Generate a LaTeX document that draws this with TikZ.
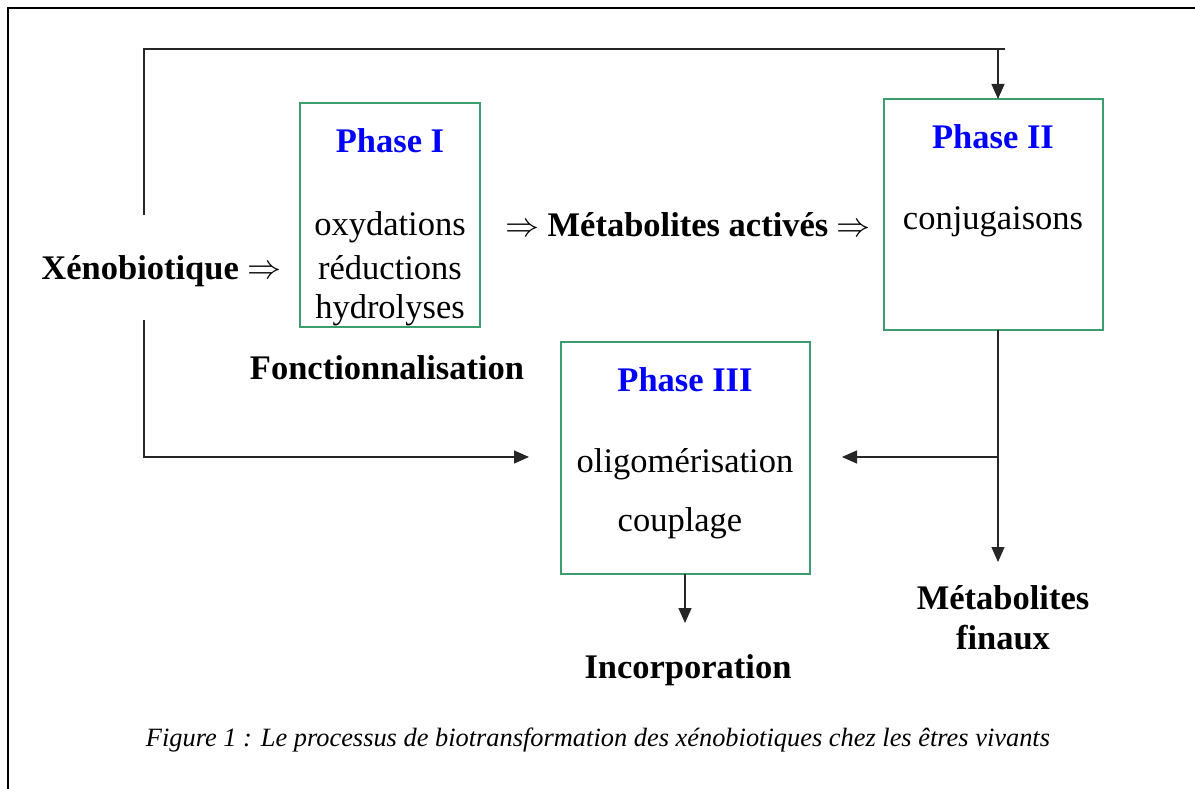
\documentclass[tikz,border=0pt]{standalone}
\usepackage{fontspec}
\setmainfont{Liberation Serif}
\newcommand{\dblarrow}{\raisebox{0.02em}{\resizebox{34pt}{!}{$\Rightarrow$}}}
\usetikzlibrary{arrows.meta}
\definecolor{boxgreen}{RGB}{60,158,108}
\definecolor{phaseblue}{RGB}{0,0,255}
\begin{document}
\begin{tikzpicture}[x=1pt,y=-1pt,
  every node/.style={inner sep=0pt,outer sep=0pt},
  phasebox/.style={draw=boxgreen,line width=2.2pt},
  big/.style={font=\fontsize{34.5}{40}\selectfont},
  bigbold/.style={font=\fontsize{34.5}{40}\selectfont\bfseries},
  phasetitle/.style={font=\fontsize{34.5}{40}\selectfont\bfseries,text=phaseblue},
  conn/.style={draw=black!85,line width=1.3pt},
  arr/.style={conn,-{Triangle[length=15pt,width=13pt]}},
  frame/.style={draw=black,line width=2.6pt}]
\useasboundingbox (0,0) rectangle (1195,789);
% frame
\coordinate (f1) at (8,789);
\coordinate (f2) at (8,8);
\coordinate (f3) at (1195,8);
\draw[frame] (f1) -- (f2) -- (f3);
% boxes
\node[phasebox,minimum width=180pt,minimum height=224pt] (p1) at (390,215) {};
\node[phasebox,minimum width=219pt,minimum height=231pt] (p2) at (993.5,214.5) {};
\node[phasebox,minimum width=249pt,minimum height=232pt] (p3) at (685.5,458) {};
% phase I texts
\node[phasetitle] (t1) at (390,141) {Phase I};
\node[big] (o1) at (390,227) {oxydations};
\node[big] (o2) at (390,268) {réductions};
\node[big] (o3) at (390,310) {hydrolyses};
% phase II texts
\node[phasetitle] (t2) at (993,137) {Phase II};
\node[big] (c1) at (993,222) {conjugaisons};
% phase III texts
\node[phasetitle] (t3) at (685,380) {Phase III};
\node[big] (g1) at (685,464) {oligomérisation};
\node[big] (g2) at (680,523) {couplage};
% free labels
\node[bigbold] (xeno) at (161.5,271) {Xénobiotique \dblarrow};
\node[bigbold] (meta) at (688,225) {\dblarrow{} Métabolites activés \dblarrow};
\node[bigbold] (fonc) at (387,368) {Fonctionnalisation};
\node[bigbold,align=center] (fin) at (1003,618) {Métabolites\\finaux};
\node[bigbold] (inc) at (688,670) {Incorporation};
\node[font=\fontsize{26.4}{30}\selectfont\itshape] (cap) at (598,740) {Figure 1 : Le processus de biotransformation des xénobiotiques chez les êtres vivants};
% connectors
\coordinate (a1) at (144,215);
\coordinate (a2) at (1005,49);
\coordinate (a3) at (998,49);
\draw[conn] (a1) |- (a2);
\draw[arr] (a3) -- (a3 |- p2.north);
\coordinate (b1) at (144,320);
\coordinate (b2) at (529,457);
\draw[arr] (b1) |- (b2);
\coordinate (d1) at (998,330);
\coordinate (d2) at (998,562);
\coordinate (d3) at (998,457);
\coordinate (d4) at (842,457);
\draw[arr] (d1) -- (d2);
\draw[arr] (d3) -- (d4);
\coordinate (e1) at (685,574);
\coordinate (e2) at (685,623);
\draw[arr] (e1) -- (e2);
\end{tikzpicture}
\end{document}
